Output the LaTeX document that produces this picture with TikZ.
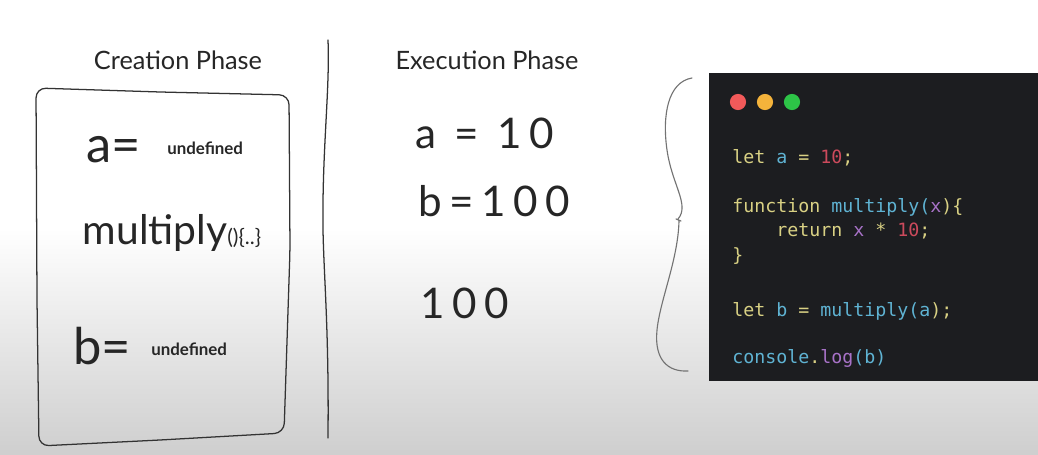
\documentclass[tikz,border=0pt]{standalone}
\usepackage{fontspec}
\setmainfont{Lato}
\setmonofont{DejaVu Sans Mono}
\usepackage{xcolor}
\usetikzlibrary{positioning,calc}

\definecolor{codebg}{HTML}{1C1D20}
\definecolor{kwcol}{HTML}{D9D184}
\definecolor{idcol}{HTML}{5FB3D3}
\definecolor{numcol}{HTML}{CC4A5C}
\definecolor{prpcol}{HTML}{A872C8}
\definecolor{dotred}{HTML}{F25A5A}
\definecolor{dotyel}{HTML}{F4B33B}
\definecolor{dotgrn}{HTML}{2DC447}

\newcommand{\kw}[1]{\textcolor{kwcol}{#1}}
\newcommand{\idn}[1]{\textcolor{idcol}{#1}}
\newcommand{\nm}[1]{\textcolor{numcol}{#1}}
\newcommand{\prp}[1]{\textcolor{prpcol}{#1}}

\begin{document}
\begin{tikzpicture}[
      x=0.025cm, y=-0.025cm,
      handline/.style={draw=black!80, line width=0.9pt, line join=round, line cap=round},
      phasetitle/.style={font=\fontsize{18}{20}\selectfont, text=black!85, inner sep=0pt},
      bighand/.style={font=\fontsize{36}{36}\selectfont, text=black!85, inner sep=0pt},
      midhand/.style={font=\fontsize{30}{30}\selectfont\addfontfeature{LetterSpace=18},
                      text=black!85, inner sep=0pt},
      smallhand/.style={font=\fontsize{12}{14}\selectfont\bfseries, text=black!85, inner sep=0pt},
      codeline/.style={font=\ttfamily\fontsize{13}{15}\selectfont, text=kwcol,
                       anchor=base west, inner sep=0pt},
      dot/.style={circle, inner sep=0pt, minimum size=11.5pt}]

    % background
    \fill[white] (0,0) rectangle (1038,454);
    \shade[top color=white, bottom color=black!19] (0,228) rectangle (1038,454);
    \useasboundingbox (0,0) rectangle (1038,454);

    % creation phase
    \node[phasetitle] (ctitle) at (178,60) {Creation Phase};
    \draw[handline, rounded corners=7pt] (36,88) -- (160,92) -- (289,95)
      -- (290,250) -- (284,433) -- (160,440) -- (39,446) -- (37,300) -- cycle;
    \node[bighand, anchor=base] (ca) at (114,162) {a=};
    \node[smallhand, anchor=base west] (cau) at (167,154) {undefined};
    \node[anchor=base, inner sep=0pt, text=black!85] (cmul) at (172,244)
      {{\fontsize{29}{29}\selectfont multiply}{\fontsize{15}{15}\selectfont ()\{..\}}};
    \node[bighand, anchor=base] (cb) at (102,364) {b=};
    \node[smallhand, anchor=base west] (cbu) at (151,355) {undefined};

    % divider
    \draw[handline] (328,40) .. controls (330,90) and (322,150) .. (323,230)
      .. controls (324,280) and (329,330) .. (328,438);

    % execution phase
    \node[phasetitle] (etitle) at (487,60) {Execution Phase};
    \node[midhand, anchor=base west] (ea) at (415,148) {a = 10};
    \node[midhand, anchor=base west] (eb) at (418,216) {b=100};
    \node[midhand, anchor=base west] (eres) at (420,318) {100};

    % brace
    \draw[draw=black!55, line width=0.8pt, line cap=round]
      (692,78) .. controls (668,82) and (662,115) .. (667,150)
      .. controls (672,185) and (690,205) .. (678,219)
      (676,219) -- (681,221)
      (679,221) .. controls (678,260) and (660,300) .. (657,330)
      .. controls (654,360) and (668,372) .. (688,371);

    % code panel
    \fill[codebg] (709,73) rectangle (1038,381);
    \node[dot, fill=dotred] (d1) at (738,102) {};
    \node[dot, fill=dotyel] (d2) at (765,102) {};
    \node[dot, fill=dotgrn] (d3) at (792,102) {};

    \node[codeline] (l1) at (732,163) {let \idn{a} = \nm{10};};
    \node[codeline] (l2) at (732,212) {function \idn{multiply(}\prp{x})\{};
    \node[codeline] (l3) at (732,236) {\phantom{xxxx}return \prp{x} * \nm{10};};
    \node[codeline] (l4) at (732,261) {\}};
    \node[codeline] (l5) at (732,316) {let \idn{b} = \idn{multiply(a});};
    \node[codeline] (l6) at (732,363) {\idn{console}.\prp{log}\idn{(b)}};
  \end{tikzpicture}
\end{document}
